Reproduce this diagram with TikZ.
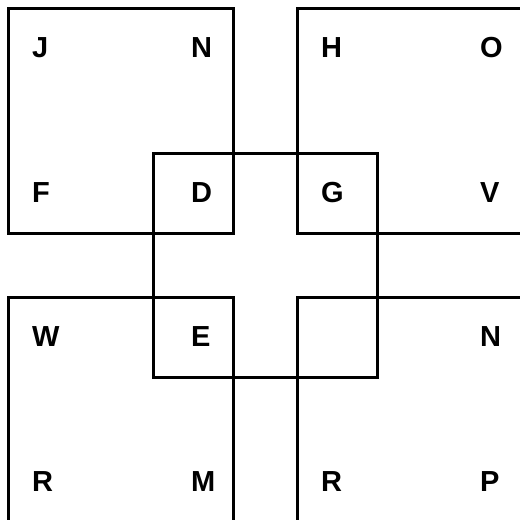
\documentclass[tikz,border=0pt]{standalone}
\usepackage{fontspec}
\setmainfont{Liberation Sans}
\begin{document}
\begin{tikzpicture}[x=1pt,y=-1pt,
  sq/.style={draw=black,line width=3pt},
  lab/.style={anchor=base west,inner sep=0pt,font=\fontsize{29}{29}\selectfont\bfseries}]
\useasboundingbox (0,0) rectangle (520,520);
\clip (0,0) rectangle (520,520);
\fill[white] (0,0) rectangle (520,520);
\draw[sq] (8.5,8.5) rectangle (233.5,233.5);
\draw[sq] (297.5,8.5) rectangle (522.5,233.5);
\draw[sq] (8.5,297.5) rectangle (233.5,522.5);
\draw[sq] (297.5,297.5) rectangle (522.5,522.5);
\draw[sq] (153.5,153.5) rectangle (377.5,377.5);
\node[lab] (J) at (32,57) {J};
\node[lab] (N1) at (191,57) {N};
\node[lab] (H) at (321,57) {H};
\node[lab] (O) at (480,57) {O};
\node[lab] (F) at (32,202) {F};
\node[lab] (D) at (191,202) {D};
\node[lab] (G) at (321,202) {G};
\node[lab] (V) at (480,202) {V};
\node[lab] (W) at (32,346) {W};
\node[lab] (E) at (191,346) {E};
\node[lab] (N2) at (480,346) {N};
\node[lab] (R1) at (32,491) {R};
\node[lab] (M) at (191,491) {M};
\node[lab] (R2) at (321,491) {R};
\node[lab] (P) at (480,491) {P};
\end{tikzpicture}
\end{document}
